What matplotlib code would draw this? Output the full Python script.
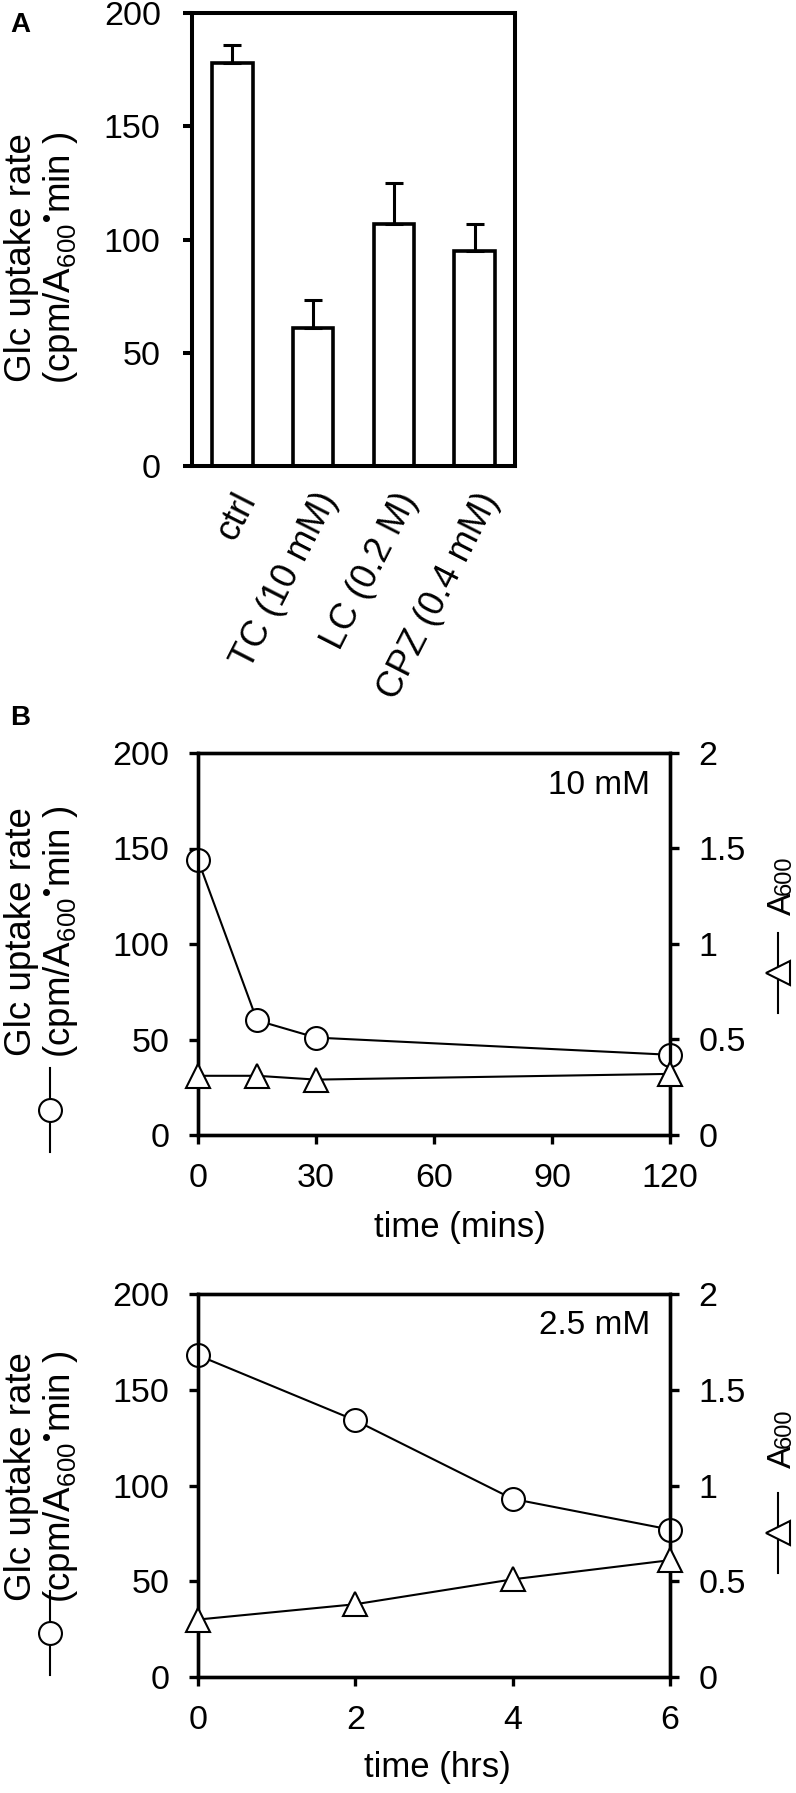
import matplotlib
matplotlib.use('Agg')
import matplotlib.pyplot as plt
from matplotlib.lines import Line2D
import matplotlib.transforms as mtransforms

plt.rcParams['font.family'] = ['Liberation Sans', 'DejaVu Sans']
plt.rcParams['mathtext.fontset'] = 'custom'
plt.rcParams['mathtext.rm'] = 'Liberation Sans'
plt.rcParams['mathtext.it'] = 'Liberation Sans:italic'
plt.rcParams['mathtext.bf'] = 'Liberation Sans:bold'

# ---------------- data ----------------
categories = ['ctrl', 'TC (10 mM)', 'LC (0.2 M)', 'CPZ (0.4 mM)']
uptake_means = [178, 61, 107, 95]
uptake_err = [8, 12.5, 18, 12]

time_mins = [0, 15, 30, 120]
uptake_10mM = [144, 60, 51, 42]
a600_10mM = [0.31, 0.31, 0.29, 0.32]

time_hrs = [0, 2, 4, 6]
uptake_25mM = [168, 134, 93, 77]
a600_25mM = [0.30, 0.38, 0.51, 0.61]

left_ticks = [0, 50, 100, 150, 200]
right_ticks = [0, 0.5, 1, 1.5, 2]
right_ticklabels = ['0', '0.5', '1', '1.5', '2']
mins_ticks = [0, 30, 60, 90, 120]
hrs_ticks = [0, 2, 4, 6]

W, H = 796, 1793
fig = plt.figure(figsize=(W / 100, H / 100), dpi=100)
fig.patch.set_facecolor('white')


def rect(l, t, r, b):
    return [l / W, 1 - b / H, (r - l) / W, (b - t) / H]


def fx(px):
    return px / W


def fy(py):
    return 1 - py / H


ylab = 'Glc uptake rate\n(cpm/A$_{600}{}^{\u2022}$min )'

# ---------------- Panel A ----------------
axA = fig.add_axes(rect(192, 13, 515, 466))
xpos = list(range(len(categories)))
axA.bar(xpos, uptake_means, width=0.5, color='white', edgecolor='black',
        linewidth=2.6, zorder=2)
axA.errorbar(xpos, uptake_means, yerr=[[0] * len(uptake_err), uptake_err],
             fmt='none', ecolor='black', elinewidth=2.2, capsize=6.5,
             capthick=2.2, zorder=3)
axA.set_xlim(-0.5, 3.5)
axA.set_ylim(0, 200)
axA.set_yticks(left_ticks)
axA.set_xticks(xpos)
axA.set_xticklabels(categories, rotation=63, ha='right', va='top',
                    rotation_mode='anchor', fontsize=26)
off = mtransforms.ScaledTranslation(10 / 100, 0, fig.dpi_scale_trans)
for lab in axA.get_xticklabels():
    lab.set_transform(lab.get_transform() + off)
for s in axA.spines.values():
    s.set_linewidth(2.9)
axA.tick_params(axis='y', direction='out', length=6.5, width=2.9,
                labelsize=24.5, pad=16)
axA.tick_params(axis='x', length=0, pad=15)
fig.text(fx(42), fy(258), ylab, rotation=90, ha='center', va='center',
         fontsize=26.5, linespacing=1.05, multialignment='center')
fig.text(fx(10), fy(25), 'A', fontsize=20, fontweight='bold',
         ha='left', va='center')
fig.text(fx(10), fy(718), 'B', fontsize=20, fontweight='bold',
         ha='left', va='center')


# ---------------- Panel B ----------------
def time_panel(top, bottom, t, up, a6, xticks, xlim, xlabel, xlab_pos,
               conc, lab_y, circ_y, a6_y, tri_y):
    ax = fig.add_axes(rect(198, top, 670, bottom))
    ax.plot(t, up, '-', color='black', lw=1.5, marker='o', ms=16.5,
            mfc='white', mec='black', mew=1.5, clip_on=False, zorder=3)
    ax.set_xlim(*xlim)
    ax.set_ylim(0, 200)
    ax.set_yticks(left_ticks)
    ax.set_xticks(xticks)
    ax2 = ax.twinx()
    ax2.plot(t, a6, '-', color='black', lw=1.5, marker='^', ms=17.5,
             mfc='white', mec='black', mew=1.5, clip_on=False, zorder=3)
    ax2.set_ylim(0, 2)
    ax2.set_yticks(right_ticks)
    ax2.set_yticklabels(right_ticklabels)
    for a in (ax, ax2):
        for s in a.spines.values():
            s.set_linewidth(2.4)
    ax.tick_params(axis='both', direction='out', length=6.5, width=2.4,
                   labelsize=24.5, pad=14)
    ax.tick_params(axis='x', top=False)
    ax2.tick_params(axis='y', direction='out', length=6.5, width=2.4,
                    labelsize=24.5, pad=14)
    fig.text(fx(650), fy(top + 32), conc, ha='right', va='center',
             fontsize=24)
    fig.text(fx(xlab_pos[0]), fy(xlab_pos[1]), xlabel, ha='center',
             va='center', fontsize=25)
    # left label + legend symbol
    fig.text(fx(42), fy(lab_y), ylab, rotation=90, ha='center',
             va='center', fontsize=26.5, linespacing=1.05,
             multialignment='center')
    fig.add_artist(Line2D([fx(50), fx(50)], [fy(circ_y - 42), fy(circ_y + 42)],
                          transform=fig.transFigure, color='black', lw=1.5))
    fig.add_artist(Line2D([fx(50)], [fy(circ_y)], transform=fig.transFigure,
                          marker='o', ms=16.5, mfc='white', mec='black',
                          mew=1.5, ls='none'))
    # right label: "A" with small "600" on the baseline
    fig.text(fx(791), fy(a6_y + 19), 'A', rotation=90, ha='center',
             va='baseline', rotation_mode='anchor', fontsize=24)
    fig.text(fx(791), fy(a6_y - 10), '600', rotation=90, ha='center',
             va='baseline', rotation_mode='anchor', fontsize=17)
    fig.add_artist(Line2D([fx(778), fx(778)], [fy(tri_y - 40), fy(tri_y + 40)],
                          transform=fig.transFigure, color='black', lw=1.5))
    fig.add_artist(Line2D([fx(778)], [fy(tri_y)], transform=fig.transFigure,
                          marker='<', ms=17.5, mfc='white', mec='black',
                          mew=1.5, ls='none'))
    return ax, ax2


time_panel(753, 1135, time_mins, uptake_10mM, a600_10mM, mins_ticks,
           (0, 120), 'time (mins)', (460, 1228), '10 mM',
           lab_y=932, circ_y=1110, a6_y=885, tri_y=973)
time_panel(1294, 1677, time_hrs, uptake_25mM, a600_25mM, hrs_ticks,
           (0, 6), 'time (hrs)', (437, 1768), '2.5 mM',
           lab_y=1477, circ_y=1633, a6_y=1438, tri_y=1533)

fig.savefig('out.png', dpi=100, facecolor='white')
